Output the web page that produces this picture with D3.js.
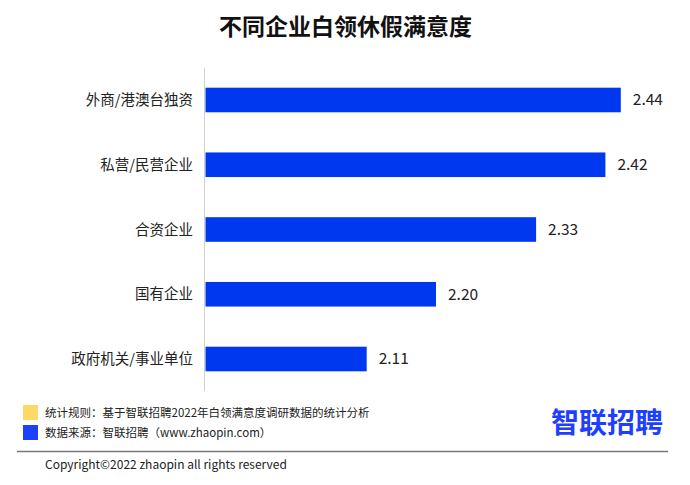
<!DOCTYPE html>
<html>
<head>
<meta charset="utf-8">
<script src="https://cdn.jsdelivr.net/npm/d3@7"></script>
<style>
  html, body { margin: 0; padding: 0; background: #fff; }
  svg { display: block; }
  text { font-family: "Noto Sans CJK SC", "Noto Sans", sans-serif; }
</style>
</head>
<body>
<svg id="chart" width="690" height="485"></svg>
<script>
const title = "不同企业白领休假满意度";
const categories = ["外商/港澳台独资", "私营/民营企业", "合资企业", "国有企业", "政府机关/事业单位"];
const values = [2.44, 2.42, 2.33, 2.20, 2.11];
const legendItems = ["统计规则：基于智联招聘2022年白领满意度调研数据的统计分析", "数据来源：智联招聘（www.zhaopin.com）"];
const legendColors = ["#FFD966", "#1F3FFF"];
const logoText = "智联招聘";
const copyright = "Copyright©2022 zhaopin all rights reserved";

const svg = d3.select("#chart");
const barColor = "#0038F0";

const x = d3.scaleLinear().domain([1.9, 2.5]).range([205, 667]);
const y = d3.scaleBand().domain(categories).range([68, 391]).paddingInner(0.62).paddingOuter(0.304);

// title
svg.append("text")
  .attr("x", 345.5).attr("y", 35)
  .attr("text-anchor", "middle")
  .attr("font-size", 23).attr("font-weight", "bold").attr("fill", "#111")
  .text(title);

// axis line
svg.append("line")
  .attr("x1", 204.5).attr("x2", 204.5)
  .attr("y1", 68).attr("y2", 391)
  .attr("stroke", "#d0d0d0").attr("stroke-width", 1);

// bars
svg.selectAll("rect.bar").data(values).join("rect")
  .attr("class", "bar")
  .attr("x", x(1.9) + 0.5)
  .attr("y", (d, i) => y(categories[i]))
  .attr("width", d => x(d) - x(1.9) - 0.5)
  .attr("height", y.bandwidth())
  .attr("fill", barColor);

// value labels
svg.selectAll("text.val").data(values).join("text")
  .attr("class", "val")
  .attr("x", d => x(d) + 12)
  .attr("y", (d, i) => y(categories[i]) + y.bandwidth() / 2)
  .attr("dy", "0.35em")
  .attr("font-size", 15.5).attr("fill", "#222")
  .text(d => d3.format(".2f")(d));

// category labels
svg.selectAll("text.cat").data(categories).join("text")
  .attr("class", "cat")
  .attr("x", 193)
  .attr("y", d => y(d) + y.bandwidth() / 2)
  .attr("dy", "0.35em")
  .attr("text-anchor", "end")
  .attr("font-size", 14.5).attr("fill", "#222")
  .text(d => d);

// footer legend
legendItems.forEach((t, i) => {
  svg.append("rect")
    .attr("x", 23).attr("y", 405 + i * 20)
    .attr("width", 15).attr("height", 15)
    .attr("fill", legendColors[i]);
  svg.append("text")
    .attr("x", 45).attr("y", 412.5 + i * 20)
    .attr("dy", "0.35em")
    .attr("font-size", 11.5).attr("fill", "#222")
    .text(t);
});

// logo
svg.append("text")
  .attr("x", 607).attr("y", 423)
  .attr("dy", "0.35em")
  .attr("text-anchor", "middle")
  .attr("font-size", 28).attr("font-weight", "bold").attr("fill", "#1F3FFF")
  .text(logoText);

// footer line
svg.append("line")
  .attr("x1", 17).attr("x2", 668)
  .attr("y1", 451.5).attr("y2", 451.5)
  .attr("stroke", "#777").attr("stroke-width", 1.5);

svg.append("text")
  .attr("x", 45).attr("y", 465)
  .attr("dy", "0.35em")
  .attr("font-size", 12).attr("fill", "#222")
  .text(copyright);
</script>
</body>
</html>
